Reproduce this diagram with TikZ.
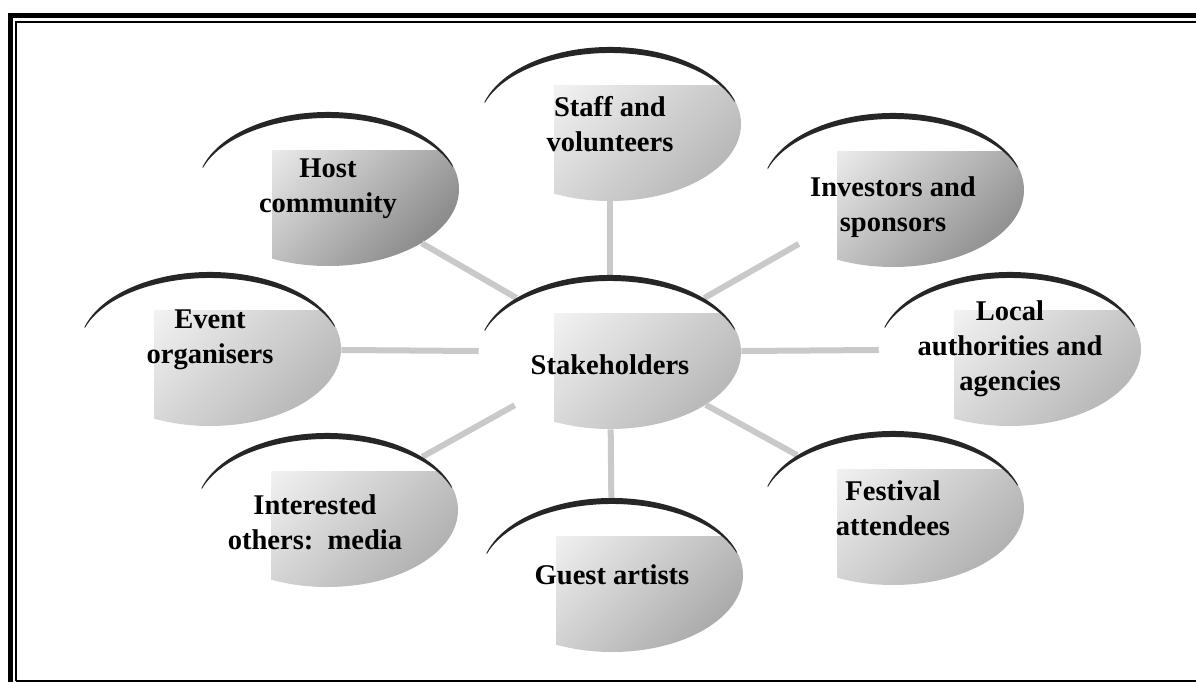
\documentclass[tikz,border=0pt]{standalone}
\usepackage{fontspec}
\setmainfont{Liberation Serif}
\usetikzlibrary{shapes.geometric}
\begin{document}
\begin{tikzpicture}[x=0.25mm, y=0.25mm,
  bubble/.style={ellipse, minimum width=65.5mm, minimum height=38.5mm, inner sep=0pt, fill=white,
    path picture={
      \clip ([xshift=-14mm, yshift=9.6mm]path picture bounding box.center) rectangle (path picture bounding box.south east);
      \shade[top color=white, middle color=gray!14, bottom color=gray!#1, shading angle=45]
        (path picture bounding box.north west) rectangle (path picture bounding box.south east);}},
  bubble/.default=55,
  txt/.style={font=\fontsize{20.3}{24.8}\selectfont\bfseries, align=center},
  link/.style={draw=gray!42, line width=1.5mm},
  rim/.style={fill=black!85}]
  \useasboundingbox (0,0) rectangle (1196,682);
  % frame
  \draw [line width=1.4mm] (10.5,0) -- (10.5,666.5) -- (1196,666.5);
  \draw [line width=0.45mm] (16,1) -- (16,660) -- (1196,660);
  \draw [line width=0.5mm] (16,1) -- (1196,1);
  % bubbles
  \node [bubble=55, label={[txt, yshift=-3.25mm]center:Stakeholders}] (stk) at (610,330) {};
  \node [bubble=55, label={[txt]center:{Staff and\\volunteers}}] (staff) at (610,558) {};
  \node [bubble=90, label={[txt]center:{Host\\community}}] (host) at (328,493) {};
  \node [bubble=85, label={[txt, yshift=-4.25mm]center:{Investors and\\sponsors}}] (inv) at (893,492) {};
  \node [bubble=55, label={[txt, yshift=2.25mm]center:{Event\\organisers}}] (event) at (210,333) {};
  \node [bubble=55, label={[txt]center:{Local\\authorities and\\agencies}}] (local) at (1010,333) {};
  \node [bubble=60, label={[txt, xshift=-3mm, yshift=-3mm]center:{Interested\\others:\ \ media}}] (inter) at (327,172) {};
  \node [bubble=65, label={[txt]center:Guest artists}] (guest) at (612,107) {};
  \node [bubble=60, label={[txt]center:{Festival\\attendees}}] (fest) at (893,174) {};
  % spokes
  \foreach \n in {staff,host,inv,event,local,inter,guest,fest}
    \draw [link] (stk) -- (\n);
  % dark top rims
  \foreach \n in {stk,staff,host,inv,event,local,inter,guest,fest}
    \fill [rim] (\n.center) ++(163:32.75mm and 19.25mm)
      arc [start angle=163, end angle=18, x radius=32.75mm, y radius=19.25mm]
      -- ++(0,-0.46mm)
      arc [start angle=18, end angle=163, x radius=32.75mm, y radius=17.75mm] -- cycle;
\end{tikzpicture}
\end{document}
